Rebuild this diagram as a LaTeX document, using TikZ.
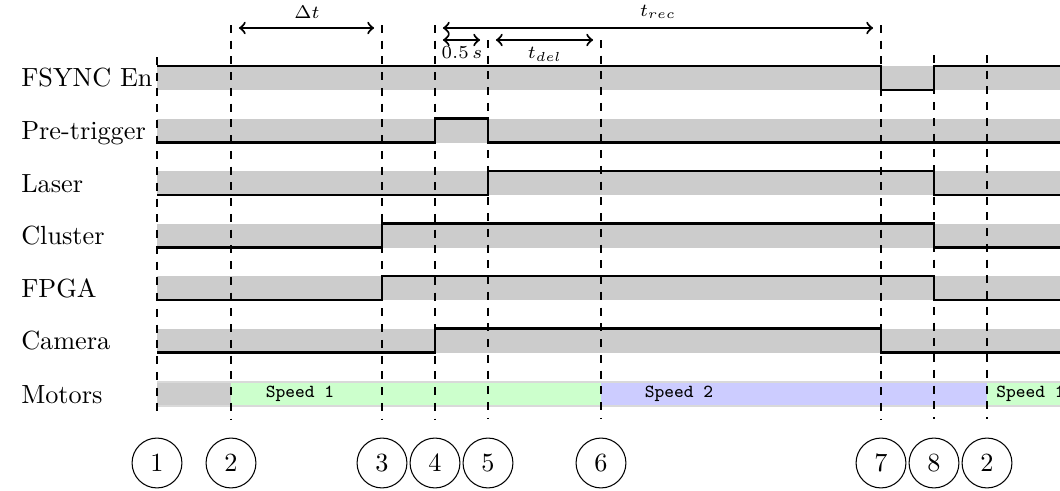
\documentclass[tikz,border=0pt]{standalone}
\begin{document}
\begin{tikzpicture}[x=0.381pt,y=-0.381pt,
  band/.style={fill=black!20,draw=none},
  sig/.style={thick},
  vline/.style={thick,dashed},
  span/.style={thick,<->,shorten <=3pt,shorten >=3pt},
  evt/.style={circle,draw,minimum size=19pt,inner sep=0pt},
  lab/.style={anchor=base west},
  spd/.style={font=\scriptsize\ttfamily},
  small/.style={font=\scriptsize}]
\useasboundingbox (0,0) rectangle (1060,491);

% gray bands
\foreach \t in {66,118.5,171,223.5,276,328.5}
  \fill[black!20] (157,\t) rectangle (1060,\t+24);

% motors bar
\fill[black!20] (157,382) rectangle (231,406);
\fill[green!20] (231,382) rectangle (601,406);
\fill[blue!20] (601,382) rectangle (987,406);
\fill[green!20] (987,382) rectangle (1060,406);
\draw[black!15,line width=0.6pt] (157,382) -- (1060,382) (157,406) -- (1060,406);
\node[spd] (sp1) at (300,394) {Speed 1};
\node[spd] (sp2) at (679,394) {Speed 2};
\node[spd,anchor=west] (sp3) at (987,394) {Speed 1};

% labels
\node[lab] (l1) at (12,87) {FSYNC En};
\node[lab] (l2) at (12,139.5) {Pre-trigger};
\node[lab] (l3) at (12,192) {Laser};
\node[lab] (l4) at (12,244.5) {Cluster};
\node[lab] (l5) at (12,297) {FPGA};
\node[lab] (l6) at (12,349.5) {Camera};
\node[lab] (l7) at (12,403) {Motors};

% signals
\draw[sig] (157,66) -- (881,66) -- (881,90) -- (934,90) -- (934,66) -- (1060,66);
\draw[sig] (157,142.5) -- (435,142.5) -- (435,118.5) -- (488,118.5) -- (488,142.5) -- (1060,142.5);
\draw[sig] (157,195) -- (488,195) -- (488,171) -- (934,171) -- (934,195) -- (1060,195);
\draw[sig] (157,247.5) -- (382,247.5) -- (382,223.5) -- (934,223.5) -- (934,247.5) -- (1060,247.5);
\draw[sig] (157,300) -- (382,300) -- (382,276) -- (934,276) -- (934,300) -- (1060,300);
\draw[sig] (157,352.5) -- (435,352.5) -- (435,328.5) -- (881,328.5) -- (881,352.5) -- (1060,352.5);

% event circles
\node[evt] (e1) at (157,463) {1};
\node[evt] (e2) at (231,463) {2};
\node[evt] (e3) at (382,463) {3};
\node[evt] (e4) at (435,463) {4};
\node[evt] (e5) at (488,463) {5};
\node[evt] (e6) at (601,463) {6};
\node[evt] (e7) at (881,463) {7};
\node[evt] (e8) at (934,463) {8};
\node[evt] (e9) at (987,463) {2};

% dashed event lines
\coordinate (t1) at (157,57);
\coordinate (t2) at (231,25);
\coordinate (t3) at (382,25);
\coordinate (t4) at (435,25);
\coordinate (t5) at (488,40);
\coordinate (t6) at (601,40);
\coordinate (t7) at (881,25);
\coordinate (t8) at (934,55);
\coordinate (t9) at (987,55);
\foreach \i in {1,...,9}
  \draw[vline] (t\i) -- ([yshift=7pt]e\i.north);

% spans
\coordinate (a2) at (231,28);
\coordinate (a3) at (382,28);
\coordinate (a4) at (435,28);
\coordinate (a7) at (881,28);
\coordinate (b4) at (435,40);
\coordinate (b5) at (488,40);
\coordinate (b6) at (601,40);
\draw[span] (a2) -- (a3);
\draw[span] (a4) -- (a7);
\draw[span] (b4) -- (b5);
\draw[span] (b5) -- (b6);
\node[small] (dt) at (307,12) {$\Delta t$};
\node[small] (trec) at (658,12) {$t_{rec}$};
\node[small] (half) at (462,53) {$0.5\,s$};
\node[small] (tdel) at (545,54) {$t_{del}$};
\end{tikzpicture}
\end{document}
